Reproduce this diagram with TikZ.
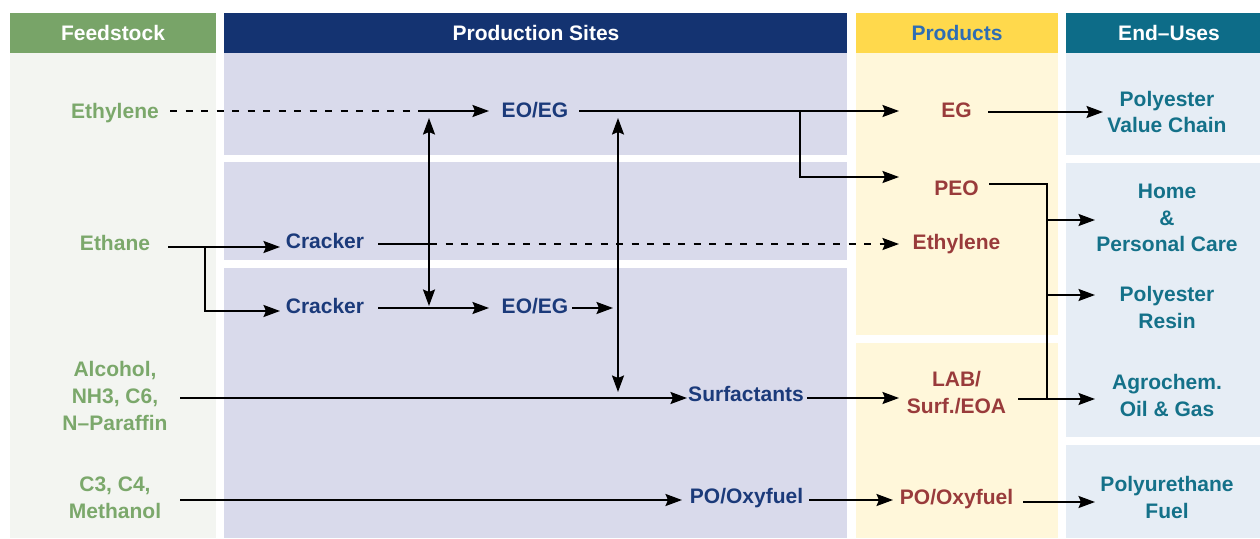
\documentclass[tikz,border=0pt]{standalone}
\usepackage{fontspec}
\setmainfont{Liberation Sans}
\usetikzlibrary{arrows.meta}
\definecolor{feedhd}{HTML}{78A468}
\definecolor{feedbg}{HTML}{F3F5F1}
\definecolor{feedtx}{HTML}{7BA86B}
\definecolor{prodhd}{HTML}{143371}
\definecolor{prodbg}{HTML}{D9DAEB}
\definecolor{prodtx}{HTML}{1B3A7A}
\definecolor{producthd}{HTML}{FFD94C}
\definecolor{producthdtx}{HTML}{2E6DB4}
\definecolor{productbg}{HTML}{FFF7DA}
\definecolor{producttx}{HTML}{993B3B}
\definecolor{endhd}{HTML}{0D6C88}
\definecolor{endbg}{HTML}{E6EDF5}
\definecolor{endtx}{HTML}{147189}
\tikzset{
  lbl/.style={font=\fontsize{21}{26.6}\selectfont\bfseries, inner sep=0pt, anchor=base, align=center},
  feed/.style={lbl, text=feedtx},
  site/.style={lbl, text=prodtx},
  prodt/.style={lbl, text=producttx},
  endu/.style={lbl, text=endtx},
  hdr/.style={lbl, text=white},
  conn/.style={line width=1.9pt, black},
  tip/.style={-{Stealth[length=16.5pt,width=12pt,inset=2.5pt]}},
  arr/.style={conn, tip},
  darr/.style={conn, {Stealth[length=16.5pt,width=12pt,inset=2.5pt]}-{Stealth[length=16.5pt,width=12pt,inset=2.5pt]}},
  dsh/.style={conn, dash pattern=on 7pt off 8.5pt}
}
\begin{document}
\begin{tikzpicture}[x=1pt,y=-1pt]
\useasboundingbox (0,0) rectangle (1260,538);
\fill[white] (0,0) rectangle (1260,538);
% column backgrounds
\fill[feedbg] (10,53) rectangle (216,538);
\fill[prodbg] (224,53) rectangle (847,155);
\fill[prodbg] (224,162) rectangle (847,260);
\fill[prodbg] (224,268) rectangle (847,538);
\fill[productbg] (856,53) rectangle (1058,335);
\fill[productbg] (856,343) rectangle (1058,538);
\fill[endbg] (1066,53) rectangle (1260,155);
\fill[endbg] (1066,163) rectangle (1260,437);
\fill[endbg] (1066,445) rectangle (1260,538);
% headers
\fill[feedhd] (10,13) rectangle (216,53);
\fill[prodhd] (224,13) rectangle (847,53);
\fill[producthd] (856,13) rectangle (1058,53);
\fill[endhd] (1066,13) rectangle (1260,53);
\node[hdr] (hfeed) at (113,40.5) {Feedstock};
\node[hdr] (hsite) at (536,40.5) {Production Sites};
\node[lbl, text=producthdtx] (hprod) at (957,40.5) {Products};
\node[hdr] (hend) at (1169,40.5) {End–Uses};
% feedstock
\node[feed] (fEthylene) at (115,118) {Ethylene};
\node[feed] (fEthane) at (115,250) {Ethane};
\node[feed] (fAlcohol) at (115,430) {Alcohol,\\NH3, C6,\\N–Paraffin};
\node[feed] (fC3) at (115,518.3) {C3, C4,\\Methanol};
% production sites
\node[site] (sEOEG1) at (535,117.5) {EO/EG};
\node[site] (sCrk1) at (325,248.3) {Cracker};
\node[site] (sCrk2) at (325,313.3) {Cracker};
\node[site] (sEOEG2) at (535,313.3) {EO/EG};
\node[site] (sSurf) at (746,401) {Surfactants};
\node[site] (sPO) at (746.5,503.3) {PO/Oxyfuel};
% products
\node[prodt] (pEG) at (956.5,117.3) {EG};
\node[prodt] (pPEO) at (956.5,195.7) {PEO};
\node[prodt] (pEthylene) at (956.5,249.3) {Ethylene};
\node[prodt] (pLAB) at (956.5,413.3) {LAB/\\Surf./EOA};
\node[prodt] (pPO) at (956.5,504) {PO/Oxyfuel};
% end uses
\node[endu] (ePVC) at (1167,132.7) {Polyester\\Value Chain};
\node[endu] (eHome) at (1167,251.7) {Home\\\&\\Personal Care};
\node[endu] (eResin) at (1167,328.3) {Polyester\\Resin};
\node[endu] (eAgro) at (1167,416) {Agrochem.\\Oil \& Gas};
\node[endu] (ePU) at (1167,518.3) {Polyurethane\\Fuel};
% connector points
\coordinate (a0) at (170,111);
\coordinate (a1) at (423,111);
\coordinate (a2) at (489,111);
\coordinate (b0) at (579,111);
\coordinate (b1) at (800,111);
\coordinate (b2) at (899,111);
\coordinate (b3) at (800,177);
\coordinate (b4) at (899,177);
\coordinate (v1t) at (429,118);
\coordinate (v1b) at (429,306);
\coordinate (v2t) at (618,118);
\coordinate (v2b) at (618,392);
\coordinate (c0) at (168,247);
\coordinate (c1) at (205,247);
\coordinate (c2) at (280,247);
\coordinate (c3) at (205,311);
\coordinate (c4) at (280,311);
\coordinate (d0) at (378,244);
\coordinate (d1) at (430,244);
\coordinate (d2) at (899,244);
\coordinate (e0) at (378,308);
\coordinate (e1) at (489,308);
\coordinate (f0) at (572,308);
\coordinate (f1) at (613,308);
\coordinate (g0) at (180,398);
\coordinate (g1) at (687,398);
\coordinate (h0) at (807,398);
\coordinate (h1) at (899,398);
\coordinate (i0) at (989,184);
\coordinate (i1) at (1047,184);
\coordinate (i2) at (1047,220);
\coordinate (i3) at (1047,295);
\coordinate (i4) at (1047,399);
\coordinate (i5) at (1095,220);
\coordinate (i6) at (1095,295);
\coordinate (j0) at (1018,399);
\coordinate (j1) at (1095,399);
\coordinate (k0) at (988,112);
\coordinate (k1) at (1103,112);
\coordinate (m0) at (180,500);
\coordinate (m1) at (682,500);
\coordinate (n0) at (809,500);
\coordinate (n1) at (893,500);
\coordinate (o0) at (1023,502);
\coordinate (o1) at (1095,502);
% connectors
\draw[dsh] (a0) -- (a1);
\draw[arr] (a1) -- (a2);
\draw[arr] (b0) -- (b2);
\draw[arr] (b1) -- (b3) -- (b4);
\draw[darr] (v1t) -- (v1b);
\draw[darr] (v2t) -- (v2b);
\draw[arr] (c0) -- (c2);
\draw[arr] (c1) -- (c3) -- (c4);
\draw[conn] (d0) -- (d1);
\draw[dsh, tip] (d1) -- (d2);
\draw[arr] (e0) -- (e1);
\draw[arr] (f0) -- (f1);
\draw[arr] (g0) -- (g1);
\draw[arr] (h0) -- (h1);
\draw[conn] (i0) -- (i1) -- (i4);
\draw[arr] (i2) -- (i5);
\draw[arr] (i3) -- (i6);
\draw[arr] (j0) -- (j1);
\draw[arr] (k0) -- (k1);
\draw[arr] (m0) -- (m1);
\draw[arr] (n0) -- (n1);
\draw[arr] (o0) -- (o1);
\end{tikzpicture}
\end{document}
